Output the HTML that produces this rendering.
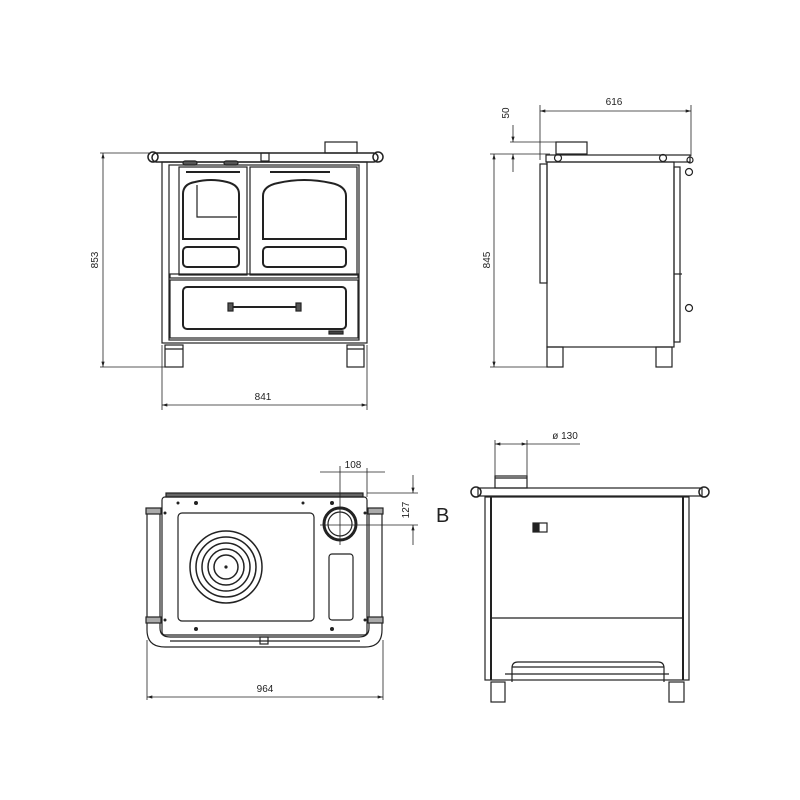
<!DOCTYPE html>
<html><head><meta charset="utf-8"><style>
html,body{margin:0;padding:0;background:#fff;}
svg{display:block;}
text{font-family:"Liberation Sans",sans-serif;font-size:10px;fill:#222;}
</style></head><body>
<svg width="800" height="800" viewBox="0 0 800 800" xmlns="http://www.w3.org/2000/svg">
<defs>
<marker id="a" viewBox="0 0 10 6" refX="10" refY="3" markerWidth="8" markerHeight="4" orient="auto-start-reverse"><path d="M0,0 L10,3 L0,6 z" fill="#222"/></marker>
</defs>
<g fill="none" stroke="#222" stroke-width="1.2">
<!-- ===== FRONT VIEW ===== -->
<rect x="325" y="142" width="32" height="11"/>
<rect x="152" y="153" width="226" height="9" rx="4.5" stroke-width="1.5"/>
<circle cx="153" cy="157" r="5" stroke-width="1.5"/>
<circle cx="378" cy="157" r="5" stroke-width="1.5"/>
<rect x="261" y="153" width="8" height="8"/>
<rect x="162" y="162" width="205" height="181"/>
<rect x="169" y="165" width="190" height="175"/>
<rect x="183" y="161" width="14" height="4" rx="2" fill="#555"/>
<rect x="224" y="161" width="14" height="4" rx="2" fill="#555"/>
<rect x="179" y="167" width="68" height="108"/>
<rect x="250" y="167" width="107" height="108"/>
<line x1="186" y1="172" x2="240" y2="172" stroke-width="2"/>
<line x1="270" y1="172" x2="330" y2="172" stroke-width="2"/>
<path d="M183 239 V194 Q183 184 195 182 Q211 178 227 182 Q239 185 239 194 V239 Z" stroke-width="2"/>
<path d="M197 185 V217 H237"/>
<path d="M263 239 V196 Q263 186 278 183 Q304 177 331 183 Q346 186 346 196 V239 Z" stroke-width="2"/>
<rect x="183" y="247" width="56" height="20" rx="4" stroke-width="2"/>
<rect x="263" y="247" width="83" height="20" rx="4" stroke-width="2"/>
<rect x="170" y="274" width="188" height="4"/>
<rect x="170" y="280" width="188" height="58"/>
<rect x="183" y="287" width="163" height="42" rx="4" stroke-width="2"/>
<line x1="232" y1="307" x2="298" y2="307" stroke-width="2"/>
<rect x="228" y="303" width="5" height="8" fill="#555"/>
<rect x="296" y="303" width="5" height="8" fill="#555"/>
<rect x="329" y="331" width="14" height="3" fill="#444"/>
<rect x="165" y="345" width="18" height="22"/>
<rect x="347" y="345" width="17" height="22"/>
<line x1="165" y1="349" x2="183" y2="349"/>
<line x1="347" y1="349" x2="364" y2="349"/>
<!-- dims front -->
<g stroke-width="0.8">
<line x1="100" y1="153" x2="150" y2="153"/>
<line x1="100" y1="367" x2="165" y2="367"/>
<line x1="103" y1="153" x2="103" y2="367" marker-start="url(#a)" marker-end="url(#a)"/>
<line x1="162" y1="345" x2="162" y2="410"/>
<line x1="367" y1="345" x2="367" y2="410"/>
<line x1="162" y1="405" x2="367" y2="405" marker-start="url(#a)" marker-end="url(#a)"/>
</g>
<!-- ===== SIDE VIEW ===== -->
<rect x="556" y="142" width="31" height="12"/>
<rect x="546" y="155" width="144" height="7"/>
<circle cx="558" cy="158" r="3.5"/>
<circle cx="663" cy="158" r="3.5"/>
<circle cx="690" cy="160" r="3"/>
<rect x="547" y="162" width="127" height="185"/>
<rect x="540" y="164" width="7" height="119"/>
<rect x="674" y="167" width="6" height="175"/>
<circle cx="689" cy="172" r="3.5"/>
<circle cx="689" cy="308" r="3.5"/>
<line x1="674" y1="274" x2="682" y2="274"/>
<rect x="547" y="347" width="16" height="20"/>
<rect x="656" y="347" width="16" height="20"/>
<g stroke-width="0.8">
<line x1="540" y1="105" x2="540" y2="160"/>
<line x1="691" y1="105" x2="691" y2="156"/>
<line x1="540" y1="111" x2="691" y2="111" marker-start="url(#a)" marker-end="url(#a)"/>
<line x1="510" y1="142" x2="556" y2="142"/>
<line x1="490" y1="154" x2="550" y2="154"/>
<line x1="513" y1="125" x2="513" y2="142" marker-end="url(#a)"/>
<line x1="513" y1="172" x2="513" y2="154" marker-end="url(#a)"/>
<line x1="494" y1="154" x2="494" y2="367" marker-start="url(#a)" marker-end="url(#a)"/>
<line x1="490" y1="367" x2="550" y2="367"/>
</g>
<!-- ===== TOP VIEW ===== -->
<rect x="166" y="493" width="197" height="4" fill="#666"/>
<rect x="162" y="497" width="205" height="138" rx="3"/>
<rect x="178" y="513" width="136" height="108" rx="4"/>
<circle cx="226" cy="567" r="36" stroke-width="1.5"/>
<circle cx="226" cy="567" r="30" stroke-width="1.5"/>
<circle cx="226" cy="567" r="24" stroke-width="1.5"/>
<circle cx="226" cy="567" r="18" stroke-width="1.5"/>
<circle cx="226" cy="567" r="12" stroke-width="1.5"/>
<circle cx="226" cy="567" r="1" fill="#222"/>
<circle cx="340" cy="524" r="16" stroke-width="3"/>
<circle cx="340" cy="524" r="12"/>
<rect x="329" y="554" width="24" height="66" rx="3"/>
<rect x="147" y="510" width="13" height="112"/>
<rect x="369" y="510" width="13" height="112"/>
<path d="M147 622 V630 Q147 647 165 647 H365 Q382 647 382 630 V622" stroke-width="1.2"/>
<path d="M160 622 V628 Q160 637 170 637 H359 Q369 637 369 628 V622"/>
<line x1="170" y1="641" x2="360" y2="641"/>
<rect x="260" y="637" width="8" height="7"/>
<g fill="#222" stroke="none">
<circle cx="178" cy="503" r="1.5"/><circle cx="196" cy="503" r="2"/><circle cx="303" cy="503" r="1.5"/><circle cx="332" cy="503" r="2"/>
<circle cx="196" cy="629" r="2"/><circle cx="332" cy="629" r="2"/>
<circle cx="165" cy="513" r="1.5"/><circle cx="165" cy="620" r="1.5"/><circle cx="365" cy="513" r="1.5"/><circle cx="365" cy="620" r="1.5"/>
</g>
<rect x="146" y="508" width="15" height="6" fill="#aaa"/>
<rect x="146" y="617" width="15" height="6" fill="#aaa"/>
<rect x="368" y="508" width="15" height="6" fill="#aaa"/>
<rect x="368" y="617" width="15" height="6" fill="#aaa"/>
<g stroke-width="0.8">
<line x1="320" y1="472" x2="385" y2="472"/>
<line x1="340" y1="466" x2="340" y2="545"/>
<line x1="367" y1="468" x2="367" y2="497"/>
<line x1="367" y1="493" x2="418" y2="493"/>
<line x1="320" y1="525" x2="418" y2="525"/>
<line x1="413" y1="475" x2="413" y2="493" marker-end="url(#a)"/>
<line x1="413" y1="545" x2="413" y2="525" marker-end="url(#a)"/>
<line x1="147" y1="640" x2="147" y2="700"/>
<line x1="383" y1="640" x2="383" y2="700"/>
<line x1="147" y1="697" x2="383" y2="697" marker-start="url(#a)" marker-end="url(#a)"/>
</g>
<!-- ===== BACK VIEW ===== -->
<rect x="495" y="476" width="32" height="12"/>
<line x1="495" y1="478" x2="527" y2="478"/>
<rect x="478" y="488" width="224" height="8"/>
<circle cx="476" cy="492" r="5" stroke-width="1.5"/>
<circle cx="704" cy="492" r="5" stroke-width="1.5"/>
<rect x="485" y="497" width="204" height="183"/>
<line x1="491" y1="497" x2="491" y2="680" stroke-width="2"/>
<line x1="683" y1="497" x2="683" y2="680" stroke-width="2"/>
<line x1="491" y1="618" x2="683" y2="618"/>
<rect x="533" y="523" width="14" height="9"/>
<rect x="534" y="524" width="5" height="7" fill="#222"/>
<path d="M512 682 V668 Q512 662 518 662 H658 Q664 662 664 668 V682"/>
<line x1="512" y1="667" x2="664" y2="667"/>
<line x1="505" y1="674" x2="669" y2="674"/>
<rect x="491" y="682" width="14" height="20"/>
<rect x="669" y="682" width="15" height="20"/>
<g stroke-width="0.8">
<line x1="495" y1="440" x2="495" y2="476"/>
<line x1="527" y1="440" x2="527" y2="476"/>
<line x1="495" y1="444" x2="527" y2="444" marker-start="url(#a)" marker-end="url(#a)"/>
<line x1="527" y1="444" x2="580" y2="444"/>
</g>
</g>
<text x="263" y="400" text-anchor="middle">841</text>
<text transform="translate(98,260) rotate(-90)" text-anchor="middle">853</text>
<text x="614" y="105" text-anchor="middle">616</text>
<text transform="translate(509,113) rotate(-90)" text-anchor="middle">50</text>
<text transform="translate(490,260) rotate(-90)" text-anchor="middle">845</text>
<text x="353" y="468" text-anchor="middle">108</text>
<text transform="translate(409,510) rotate(-90)" text-anchor="middle">127</text>
<text x="436" y="522" style="font-size:20px">B</text>
<text x="265" y="692" text-anchor="middle">964</text>
<text x="565" y="439" text-anchor="middle">ø 130</text>
</svg>
</body></html>
